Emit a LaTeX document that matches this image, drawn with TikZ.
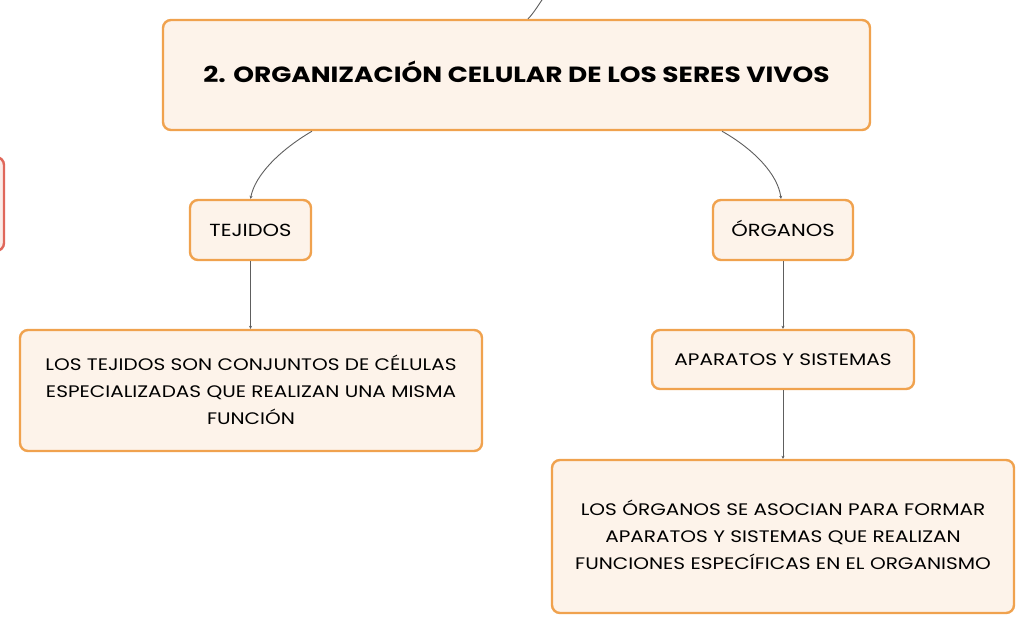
\documentclass[tikz,border=0pt]{standalone}
\usepackage{fontspec}
\setmainfont{Poppins}[FakeStretch=1.2]
\usetikzlibrary{arrows.meta}
\definecolor{boxfill}{HTML}{FDF3EA}
\definecolor{boxline}{HTML}{F0A24E}
\definecolor{redline}{HTML}{E0675A}
\definecolor{redfill}{HTML}{FBECE8}
\definecolor{conn}{HTML}{5E5E5E}
\tikzset{
  box/.style={draw=boxline, fill=boxfill, line width=2.4pt, rounded corners=8pt, align=center, text=black, inner sep=0pt},
  oneline/.style={text height=#1, text depth=0pt},
  conline/.style={draw=conn, line width=0.9pt, -{Stealth[length=3pt,width=3pt]}},
}
\begin{document}
\begin{tikzpicture}[x=1pt,y=-1pt]
\useasboundingbox (0,0) rectangle (1035,634);
\fill[white] (0,0) rectangle (1035,634);
% partially visible box at left
\draw[draw=redline, fill=redfill, line width=2.4pt, rounded corners=8pt] (-40,157) rectangle (4,251);
\node[box, oneline=15.4pt, minimum width=707pt, minimum height=110pt, font=\fontsize{22pt}{26pt}\selectfont\bfseries] (main) at (516.5,75) {2. ORGANIZACIÓN CELULAR DE LOS SERES VIVOS};
\coordinate (parent) at (548,-8);
\node[box, oneline=12.3pt, minimum width=121pt, minimum height=60pt, font=\fontsize{17.5pt}{20pt}\selectfont] (tej) at (250.5,230) {TEJIDOS};
\node[box, oneline=12.3pt, minimum width=140pt, minimum height=60pt, font=\fontsize{17.5pt}{20pt}\selectfont] (org) at (783,230) {ÓRGANOS};
\node[box, minimum width=462pt, minimum height=121pt, font=\fontsize{16.7pt}{27pt}\selectfont] (dtej) at (251,390.5) {\raisebox{2pt}{LOS TEJIDOS SON CONJUNTOS DE CÉLULAS}\\\raisebox{2pt}{ESPECIALIZADAS QUE REALIZAN UNA MISMA}\\\raisebox{2pt}{FUNCIÓN}};
\node[box, oneline=11.7pt, minimum width=262pt, minimum height=59pt, font=\fontsize{16.7pt}{20pt}\selectfont] (apa) at (783,359.5) {APARATOS Y SISTEMAS};
\node[box, minimum width=462pt, minimum height=153pt, font=\fontsize{16.7pt}{27pt}\selectfont] (dorg) at (783,536.5) {\raisebox{3pt}{LOS ÓRGANOS SE ASOCIAN PARA FORMAR}\\\raisebox{3pt}{APARATOS Y SISTEMAS QUE REALIZAN}\\\raisebox{3pt}{FUNCIONES ESPECÍFICAS EN EL ORGANISMO}};
\draw[draw=conn, line width=0.9pt] (main.north -| 528,0) .. controls (535,12) and (541,0) .. (parent);
\draw[conline] (main.south -| 312,0) .. controls (280,150) and (255,175) .. (tej.north);
\draw[conline] (main.south -| 722,0) .. controls (755,150) and (778,175) .. (org.north -| 781,0);
\draw[conline] (tej.south) -- (dtej.north -| tej.south);
\draw[conline] (org.south) -- (apa.north);
\draw[conline] (apa.south) -- (dorg.north);
\end{tikzpicture}
\end{document}
